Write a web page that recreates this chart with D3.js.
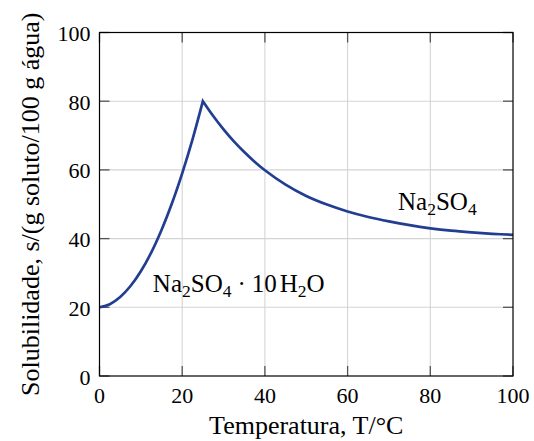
<!DOCTYPE html>
<html>
<head>
<meta charset="utf-8">
<script src="https://cdn.jsdelivr.net/npm/d3@7"></script>
<style>
  body { margin: 0; background: #fff; }
  svg { display: block; font-family: "Liberation Serif", serif; }
</style>
</head>
<body>
<div id="chart"></div>
<script>
// valeurs
const risingT = [0, 2.5, 5, 7.5, 10, 12.5, 15, 17.5, 20, 22.5, 25];
const risingS = [20, 20.9, 23.0, 26.2, 30.5, 35.9, 42.5, 50.2, 59.0, 68.9, 80];
const fallingT = [25, 27.5, 30, 32.5, 35, 37.5, 40, 45, 50, 55, 60, 65, 70, 75, 80, 85, 90, 95, 100];
const fallingS = [80, 75.7, 71.8, 68.3, 65.2, 62.4, 59.9, 55.7, 52.4, 49.9, 47.9, 46.3, 45.0, 43.9, 43.0, 42.3, 41.8, 41.4, 41.1];
const xTicks = [0, 20, 40, 60, 80, 100];
const yTicks = [0, 20, 40, 60, 80, 100];

const width = 534, height = 441;
const margin = { top: 32.5, right: 21, bottom: 65, left: 99.5 };

const svg = d3.select("#chart").append("svg")
  .attr("width", width)
  .attr("height", height)
  .attr("viewBox", `0 0 ${width} ${height}`);

const x = d3.scaleLinear().domain([0, 100]).range([margin.left, width - margin.right]);
const y = d3.scaleLinear().domain([0, 100]).range([height - margin.bottom, margin.top]);

const x0 = x(0), x1 = x(100), y0 = y(0), y1 = y(100);
const tickLen = 10;

// grille
const grid = svg.append("g").attr("stroke", "#d4d4d4").attr("stroke-width", 1.1);
grid.selectAll(".gx").data(xTicks.slice(1, -1)).enter().append("line")
  .attr("x1", d => x(d)).attr("x2", d => x(d)).attr("y1", y0).attr("y2", y1);
grid.selectAll(".gy").data(yTicks.slice(1, -1)).enter().append("line")
  .attr("y1", d => y(d)).attr("y2", d => y(d)).attr("x1", x0).attr("x2", x1);

// graduations vers l'intérieur, sur les quatre côtés
const ticks = svg.append("g").attr("stroke", "#555").attr("stroke-width", 1.3);
xTicks.forEach(d => {
  ticks.append("line").attr("x1", x(d)).attr("x2", x(d)).attr("y1", y0).attr("y2", y0 - tickLen);
  ticks.append("line").attr("x1", x(d)).attr("x2", x(d)).attr("y1", y1).attr("y2", y1 + tickLen);
});
yTicks.forEach(d => {
  ticks.append("line").attr("y1", y(d)).attr("y2", y(d)).attr("x1", x0).attr("x2", x0 + tickLen);
  ticks.append("line").attr("y1", y(d)).attr("y2", y(d)).attr("x1", x1).attr("x2", x1 - tickLen);
});

// courbe
const line = d3.line().x(d => x(d[0])).y(d => y(d[1])).curve(d3.curveCatmullRom.alpha(0.5));
const rising = risingT.map((t, i) => [t, risingS[i]]);
const falling = fallingT.map((t, i) => [t, fallingS[i]]);
const pathD = line(rising) + line(falling).replace(/^M[^CL]*/, "");

svg.append("path")
  .attr("d", pathD)
  .attr("fill", "none")
  .attr("stroke", "#213e91")
  .attr("stroke-width", 2.7)
  .attr("stroke-linejoin", "miter");

// cadre
svg.append("rect")
  .attr("x", x0).attr("y", y1)
  .attr("width", x1 - x0).attr("height", y0 - y1)
  .attr("fill", "none").attr("stroke", "#000").attr("stroke-width", 1.2);

// étiquettes des graduations
svg.append("g").selectAll("text").data(xTicks).enter().append("text")
  .attr("x", d => x(d)).attr("y", y0 + 27)
  .attr("text-anchor", "middle")
  .attr("font-size", 22)
  .text(d => d);

svg.append("g").selectAll("text").data(yTicks).enter().append("text")
  .attr("x", x0 - 9).attr("y", d => y(d) + 8.5)
  .attr("text-anchor", "end")
  .attr("font-size", 22)
  .text(d => d);

// titres des axes
svg.append("text")
  .attr("x", (x0 + x1) / 2).attr("y", 434)
  .attr("text-anchor", "middle")
  .attr("font-size", 26)
  .text("Temperatura, T/°C");

svg.append("text")
  .attr("transform", `translate(39, ${(y0 + y1) / 2}) rotate(-90)`)
  .attr("text-anchor", "middle")
  .attr("font-size", 26)
  .text("Solubilidade, s/(g soluto/100 g água)");

// formules chimiques avec indices
function formula(parts, tx, ty) {
  const t = svg.append("text")
    .attr("x", x(tx)).attr("y", y(ty))
    .attr("font-size", 25);
  parts.forEach(p => {
    const s = t.append("tspan").text(p.text);
    if (p.sub) s.attr("font-size", 17.5).attr("dy", 5);
    if (p.after) s.attr("dy", -5);
    if (p.dx) s.attr("dx", p.dx);
  });
}

formula([
  { text: "Na" }, { text: "2", sub: true }, { text: "SO", after: true },
  { text: "4", sub: true }, { text: "\u00b7", after: true, dx: 6 },
  { text: "10", dx: 6 }, { text: "H", dx: 3 }, { text: "2", sub: true },
  { text: "O", after: true }
], 12.9, 24.5);

formula([
  { text: "Na" }, { text: "2", sub: true }, { text: "SO", after: true },
  { text: "4", sub: true }
], 72.2, 48.3);
</script>
</body>
</html>
